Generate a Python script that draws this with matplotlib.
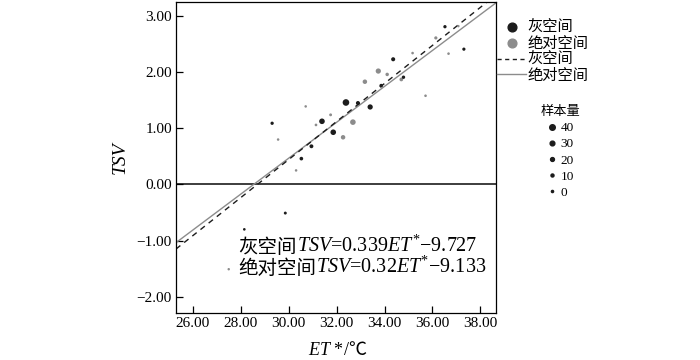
import matplotlib
matplotlib.use('Agg')
import matplotlib.pyplot as plt
from matplotlib.lines import Line2D
from matplotlib.ticker import FuncFormatter, MultipleLocator
import numpy as np

plt.rcParams['font.family'] = ['Liberation Serif', 'Noto Sans CJK SC']
plt.rcParams['mathtext.fontset'] = 'custom'
plt.rcParams['mathtext.rm'] = 'Liberation Serif'
plt.rcParams['mathtext.it'] = 'Liberation Serif:italic'
plt.rcParams['mathtext.default'] = 'rm'

# data
black_x = [29.31, 30.53, 30.95, 31.39, 31.86, 32.39, 32.89, 33.40, 33.86, 34.36, 34.79, 36.52, 37.31, 29.86, 28.15]
black_y = [1.09, 0.46, 0.68, 1.125, 0.93, 1.46, 1.45, 1.38, 1.76, 2.23, 1.91, 2.81, 2.41, -0.51, -0.80]
black_n = [13, 17, 20, 40, 40, 52, 22, 36, 17, 22, 14, 13, 12, 9, 5]

gray_x = [29.56, 30.71, 30.31, 31.14, 31.75, 32.27, 32.68, 33.18, 33.74, 34.11, 34.70, 35.17, 35.71, 36.14, 36.67, 27.50, 37.08]
gray_y = [0.80, 1.39, 0.25, 1.06, 1.24, 0.84, 1.11, 1.83, 2.02, 1.96, 1.87, 2.34, 1.58, 2.61, 2.33, -1.51, 2.82]
gray_n = [4, 4, 4, 6, 8, 27, 40, 27, 36, 15, 18, 5, 5, 12, 5, 3, 3]

fit_black = (0.339, -9.727)
fit_gray = (0.32, -9.133)

size_levels = [40, 30, 20, 10, 0]
series_names = ['灰空间', '绝对空间']

BLACK = '#1c1c1c'
GRAY = '#8c8c8c'


def diam(n):
    # marker diameter in points
    return (2.2 + 0.085 * np.asarray(n, dtype=float)) * 0.72


fig = plt.figure(figsize=(7, 3.6), dpi=100)
fig.subplots_adjust(left=176 / 700, right=496 / 700, bottom=1 - 313 / 360, top=1 - 2 / 360)
ax = fig.add_subplot(111)

xlim = (25.30, 38.65)
ax.set_xlim(*xlim)
ax.set_ylim(-2.29, 3.25)

xs = np.array(xlim)
ax.plot(xs, fit_gray[0] * xs + fit_gray[1], color=GRAY, lw=1.0, zorder=2)
ax.plot(xs, fit_black[0] * xs + fit_black[1], color=BLACK, lw=1.0, ls=(0, (4, 3.5)), zorder=2)
ax.axhline(0, color=BLACK, lw=1.2, zorder=1)

ax.scatter(gray_x, gray_y, s=diam(gray_n) ** 2, color=GRAY, lw=0, zorder=3)
ax.scatter(black_x, black_y, s=diam(black_n) ** 2, color=BLACK, lw=0, zorder=4)

ax.xaxis.set_major_locator(MultipleLocator(2))
ax.yaxis.set_major_locator(MultipleLocator(1))
fmt = FuncFormatter(lambda v, p: f"{v:.2f}".replace('-', '\u2212'))
ax.xaxis.set_major_formatter(fmt)
ax.yaxis.set_major_formatter(fmt)
ax.tick_params(direction='in', length=5, width=0.9, labelsize=11, pad=3)
for sp in ax.spines.values():
    sp.set_linewidth(0.9)

ax.set_ylabel('TSV', fontsize=14, style='italic', labelpad=6)

# x label: ET */℃
xl1 = fig.text(308 / 700, 1 - 355 / 360, '$\\mathit{ET}$ *', fontsize=13, va='baseline', ha='left')
ax.annotate('/℃', xy=(1, 0), xycoords=xl1, va='bottom', ha='left', fontsize=13,
            annotation_clip=False)

# equations
eq_lines = [
    (series_names[0], '$\\mathit{TSV}$=0.339$\\mathit{ET}^{*}$\u22129.727', -1.22),
    (series_names[1], '$\\mathit{TSV}$=0.32$\\mathit{ET}^{*}$\u22129.133', -1.595),
]
for name, rhs, yb in eq_lines:
    t = ax.text(27.89, yb, name, fontsize=14, va='baseline', ha='left')
    ax.annotate(rhs, xy=(1, 0), xycoords=t, va='bottom', ha='left', fontsize=14.5)

# series legend
handles = [
    Line2D([], [], ls='none', marker='o', ms=6.3, color=BLACK),
    Line2D([], [], ls='none', marker='o', ms=6.3, color=GRAY),
    Line2D([], [], color=BLACK, lw=1.0, ls=(0, (3, 2.5))),
    Line2D([], [], color=GRAY, lw=1.0),
]
labels = [series_names[0], series_names[1], series_names[0], series_names[1]]
leg1 = fig.legend(handles, labels, loc='upper left', bbox_to_anchor=(497 / 700, 1 - 21 / 360),
                  frameon=False, fontsize=11, handlelength=1.9, handletextpad=0.1,
                  labelspacing=0.12, borderpad=0, borderaxespad=0)

# sample size legend
size_handles = [Line2D([], [], ls='none', marker='o', ms=diam(n), color=BLACK) for n in size_levels]
leg2 = fig.legend(size_handles, [str(n) for n in size_levels], loc='upper left',
                  bbox_to_anchor=(541 / 700, 1 - 106 / 360), frameon=False, fontsize=9.5,
                  title='样本量', title_fontsize=9.5, handlelength=0.6, handletextpad=0.4,
                  labelspacing=0.3, borderpad=0, borderaxespad=0)

fig.savefig('out.png', dpi=100)
